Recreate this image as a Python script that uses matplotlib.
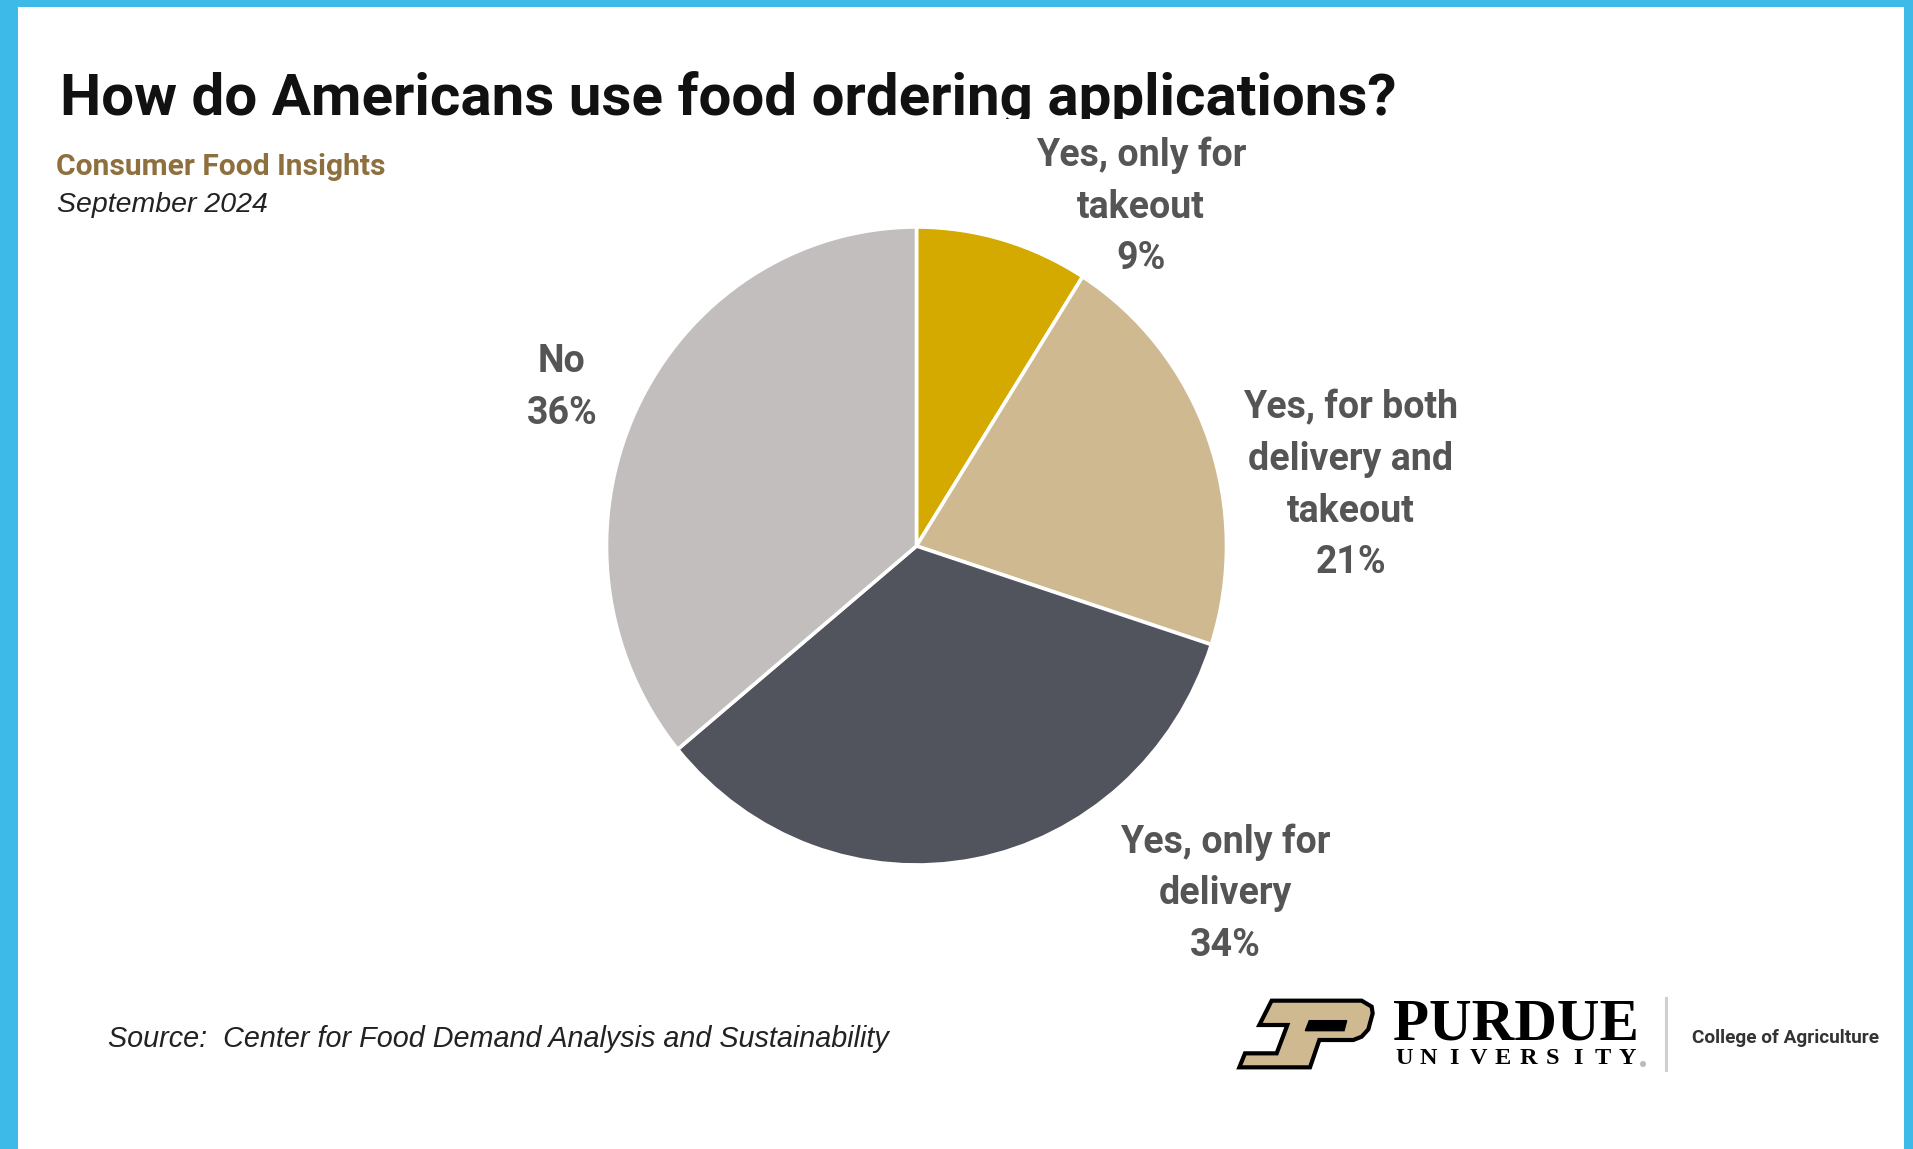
import matplotlib.pyplot as plt
import numpy as np
from matplotlib.patches import Polygon, Rectangle

plt.rcParams["font.family"] = ["Roboto", "DejaVu Sans"]

W, H = 1913, 1149

CATEGORIES = [
    "Yes, only for\ntakeout",
    "Yes, for both\ndelivery and\ntakeout",
    "Yes, only for\ndelivery",
    "No",
]
SHARES = [9, 21, 34, 36]
COLORS = ["#D4AA00", "#CFB991", "#52545D", "#C2BEBE"]

# label anchor = centre x / baseline of the last (percent) line, in pixels
LABEL_POS = [(1141, 269), (1351, 573), (1225, 956), (562, 424)]

TITLE = "How do Americans use food ordering applications?"
SUBTITLE = "Consumer Food Insights"
DATE = "September 2024"
SOURCE = "Source:  Center for Food Demand Analysis and Sustainability"

BLUE = "#3DBAE8"
LABEL_GRAY = "#555555"

fig = plt.figure(figsize=(W / 100, H / 100), dpi=100)
fig.patch.set_facecolor("white")

bg = fig.add_axes([0, 0, 1, 1])
bg.set_xlim(0, W)
bg.set_ylim(H, 0)
bg.axis("off")

# blue frame
bg.add_patch(Rectangle((0, 0), W, 7, color=BLUE, lw=0))
bg.add_patch(Rectangle((0, 0), 18, H, color=BLUE, lw=0))
bg.add_patch(Rectangle((1904, 0), W - 1904, H, color=BLUE, lw=0))

# title, clipped just under the baseline like the source image
title = bg.text(60, 115, TITLE, fontsize=42, fontweight="bold", color="#111111",
                va="baseline", ha="left", clip_on=True)
title.set_clip_path(Rectangle((0, 0), W, 119, transform=bg.transData))

bg.text(56, 175, SUBTITLE, fontsize=21.6, fontweight="bold", color="#8E6F3E",
        va="baseline", ha="left")
bg.text(57, 212, DATE, fontsize=20.5, style="italic", color="#222222",
        family=["Liberation Sans"], va="baseline", ha="left")

# pie, slightly taller than wide as in the reference
cx, cy, rx, ry = 916.5, 546, 310, 319
ax = fig.add_axes([(cx - rx) / W, (H - cy - ry) / H, 2 * rx / W, 2 * ry / H])
ax.pie(SHARES, colors=COLORS, startangle=90, counterclock=False,
       wedgeprops=dict(edgecolor="white", linewidth=2.6))
ax.set_aspect("auto")
ax.set_xlim(-1, 1)
ax.set_ylim(-1, 1)
ax.axis("off")

for label, share, (x, y) in zip(CATEGORIES, SHARES, LABEL_POS):
    bg.text(x, y, f"{label}\n{share}%", fontsize=27, fontweight="bold",
            color=LABEL_GRAY, ha="center", va="baseline", linespacing=1.5,
            multialignment="center")

bg.text(108, 1047, SOURCE, fontsize=20.7, style="italic", color="#222222",
        family=["Liberation Sans"], va="baseline", ha="left")

# Purdue logo
def zp(pts):
    return [(1230 + x / 3, 990 + y / 3) for x, y in pts]

p_outline = zp([(125, 32), (395, 32), (425, 50), (428, 70), (415, 118), (395, 140),
                (370, 150), (268, 150), (240, 232), (28, 232), (45, 190), (140, 190),
                (172, 105), (88, 105)])
bg.add_patch(Polygon(p_outline, closed=True, facecolor="#CFB991", edgecolor="black",
                     linewidth=3, joinstyle="miter"))
p_slot = zp([(238, 92), (350, 92), (342, 122), (226, 122)])
bg.add_patch(Polygon(p_slot, closed=True, facecolor="black", edgecolor="black", linewidth=1))

bg.text(1393, 1040, "PURDUE", fontsize=42.5, fontweight="bold", family=["Liberation Serif"],
        color="black", va="baseline", ha="left")
for ch, x in zip("UNIVERSITY", np.linspace(1404, 1627, 10)):
    bg.text(x, 1064, ch, fontsize=17.5, fontweight="bold", family=["Liberation Serif"],
            color="black", va="baseline", ha="center")
bg.add_patch(plt.Circle((1643, 1064), 3, color="#BBBBBB", lw=0))
bg.plot([1666, 1666], [998, 1070], color="#D0D0D0", lw=2.2)
bg.text(1692, 1043, "College of Agriculture", fontsize=13.7, fontweight="bold",
        color="#333333", va="baseline", ha="left")

fig.savefig("out.png", dpi=100)
